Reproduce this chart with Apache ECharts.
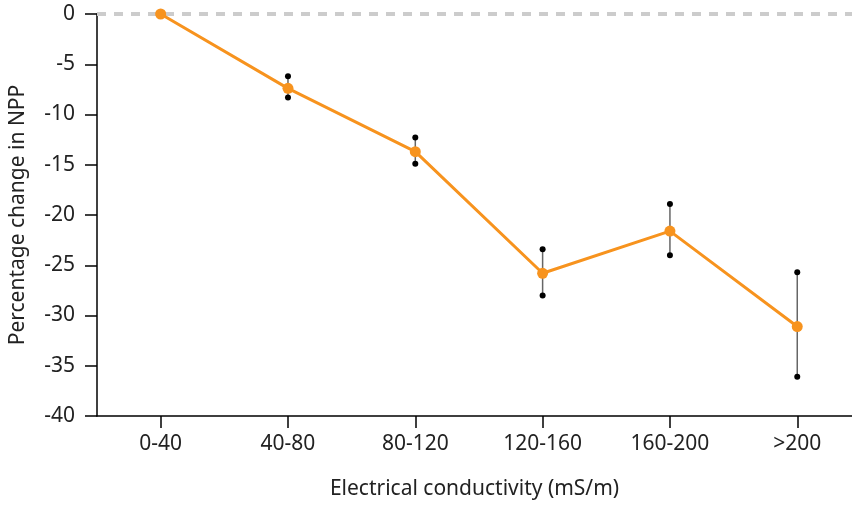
<!DOCTYPE html>
<html>
<head>
<meta charset="utf-8">
<script src="https://cdn.jsdelivr.net/npm/echarts@6/dist/echarts.min.js"></script>
<style>
html,body{margin:0;padding:0;background:#fff;}
#chart{width:852px;height:506px;}
</style>
</head>
<body>
<div id="chart"></div>
<script>
var categories = ['0-40', '40-80', '80-120', '120-160', '160-200', '>200'];
var meanValues = [0, -7.4, -13.7, -25.8, -21.6, -31.1];
var errLow = [0, -8.3, -14.9, -28.0, -24.0, -36.1];
var errHigh = [0, -6.2, -12.3, -23.4, -18.9, -25.7];
var yTicks = [0, -5, -10, -15, -20, -25, -30, -35, -40];

var FONT = 'Noto Sans';
var TXT = '#222';
var FS = 21;

var lineData = categories.map(function (c, i) { return [i, meanValues[i]]; });
var errData = categories.map(function (c, i) {
  return [i, errLow[i], errHigh[i]];
}).filter(function (d, i) { return errLow[i] !== errHigh[i]; });

var chart = echarts.init(document.getElementById('chart'));
chart.setOption({
  animation: false,
  backgroundColor: '#fff',
  grid: { left: 94, top: 14, right: 0, bottom: 90 },
  xAxis: {
    type: 'value',
    min: -0.5,
    max: 5.43,
    name: 'Electrical conductivity (mS/m)',
    nameLocation: 'middle',
    nameGap: 63,
    nameTextStyle: { fontFamily: FONT, fontSize: FS, color: TXT },
    axisLine: { show: true, onZero: false, lineStyle: { color: '#000', width: 1.5 } },
    axisTick: { show: true, length: 12, lineStyle: { color: '#000', width: 1.5 } },
    axisLabel: { fontFamily: FONT, fontSize: FS, color: TXT, margin: 18,
      showMinLabel: false, showMaxLabel: false,
      formatter: function (v) {
        var i = Math.round(v);
        return (Math.abs(v - i) < 1e-6 && categories[i] !== undefined) ? categories[i] : '';
      } },
    splitLine: { show: false }
  },
  yAxis: {
    type: 'value',
    min: -40,
    max: 0,
    interval: 5,
    name: 'Percentage change in NPP',
    nameLocation: 'middle',
    nameGap: 68,
    nameTextStyle: { fontFamily: FONT, fontSize: FS, color: TXT },
    axisLine: { show: true, onZero: false, lineStyle: { color: '#000', width: 1.5 } },
    axisTick: { show: true, length: 12, lineStyle: { color: '#000', width: 1.5 } },
    axisLabel: { fontFamily: FONT, fontSize: FS, color: TXT, margin: 22,
      formatter: function (v) { return yTicks.indexOf(v) >= 0 ? String(v) : ''; } },
    splitLine: { show: false }
  },
  series: [{
    type: 'custom',
    z: 2,
    data: errData,
    renderItem: function (params, api) {
      var x = api.value(0);
      var lo = api.coord([x, api.value(1)]);
      var hi = api.coord([x, api.value(2)]);
      return {
        type: 'group',
        children: [
          { type: 'line', shape: { x1: lo[0], y1: lo[1], x2: hi[0], y2: hi[1] },
            style: { stroke: '#666', lineWidth: 1.5 } },
          { type: 'circle', shape: { cx: lo[0], cy: lo[1], r: 3 }, style: { fill: '#000' } },
          { type: 'circle', shape: { cx: hi[0], cy: hi[1], r: 3 }, style: { fill: '#000' } }
        ]
      };
    }
  }, {
    type: 'line',
    z: 3,
    data: lineData,
    symbol: 'circle',
    symbolSize: 11,
    itemStyle: { color: '#F7931E' },
    lineStyle: { color: '#F7931E', width: 3 },
    markLine: {
      silent: true,
      symbol: 'none',
      label: { show: false },
      lineStyle: { color: '#cccccc', type: [9, 8], width: 4 },
      z: 1,
      data: [{ yAxis: 0 }]
    }
  }]
});
</script>
</body>
</html>
